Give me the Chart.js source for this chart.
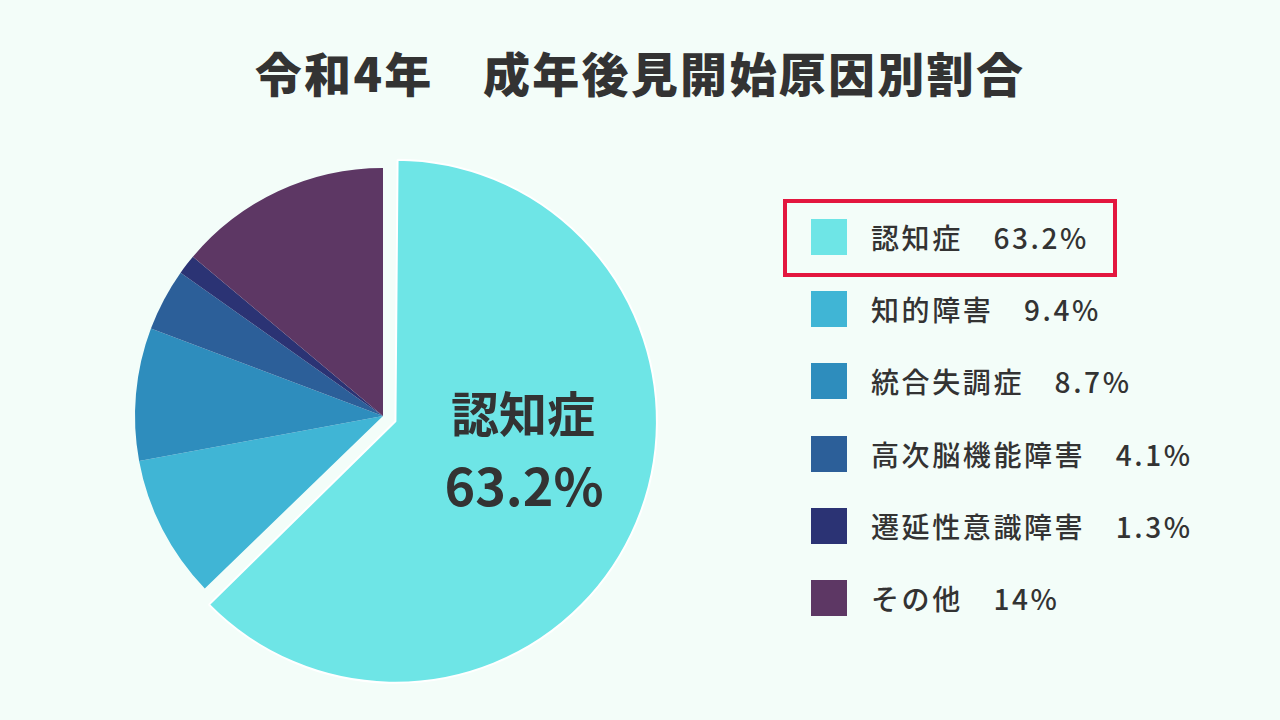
<!DOCTYPE html>
<html lang="ja">
<head>
<meta charset="utf-8">
<title>令和4年 成年後見開始原因別割合</title>
<script src="https://cdn.jsdelivr.net/npm/chart.js@4.4.1/dist/chart.umd.min.js"></script>
<style>
    html, body {
        margin: 0;
        padding: 0;
        width: 1280px;
        height: 720px;
        overflow: hidden;
        background: #f3fdf9;
        font-family: 'Noto Sans CJK JP', 'Noto Sans', sans-serif;
        color: #333;
    }
    #title {
        position: absolute;
        left: 0;
        top: 42px;
        width: 1280px;
        margin: 0;
        text-align: center;
        font-size: 47px;
        line-height: 60px;
        font-weight: 900;
        letter-spacing: 2.3px;
    }
    #pieBox {
        position: absolute;
        left: 103px;
        top: 136px;
        width: 560px;
        height: 560px;
    }
    #legend {
        position: absolute;
        left: 811px;
        top: 201px;
        margin: 0;
        padding: 0;
        list-style: none;
    }
    #legend li {
        display: flex;
        align-items: center;
        height: 72.2px;
        font-size: 28px;
        font-weight: 500;
        letter-spacing: 2.6px;
        white-space: pre;
    }
    #legend .box {
        width: 36px;
        height: 36px;
        margin-right: 24px;
        flex: none;
    }
    #highlight {
        position: absolute;
        left: 783px;
        top: 199px;
        width: 334px;
        height: 78px;
        box-sizing: border-box;
        border: 4px solid #e3173f;
    }
</style>
</head>
<body>
<h1 id="title">令和4年　成年後見開始原因別割合</h1>
<div id="pieBox"><canvas id="causePie" width="560" height="560"></canvas></div>
<div id="highlight"></div>
<ul id="legend"></ul>

<script>
const causes = ['認知症', '知的障害', '統合失調症', '高次脳機能障害', '遷延性意識障害', 'その他'];
const shares = [63.2, 9.4, 8.7, 4.1, 1.3, 14];
const sliceColors = ['#6ee5e6', '#40b5d5', '#2e8dbd', '#2c5f99', '#2b3374', '#5d3764'];

//#region Legend (HTML)
function buildLegend() {
    const legend = document.getElementById('legend');
    causes.forEach((cause, i) => {
        const li = document.createElement('li');
        const box = document.createElement('span');
        box.className = 'box';
        box.style.background = sliceColors[i];
        li.appendChild(box);
        li.appendChild(document.createTextNode(cause + '　' + shares[i] + '%'));
        legend.appendChild(li);
    });
}
//#endregion

//#region Pie
// label written on the big slice
const bigSliceLabel = {
    id: 'bigSliceLabel',
    afterDatasetsDraw(chart) {
        const arc = chart.getDatasetMeta(0).data[0];
        const {x, y, startAngle, endAngle, outerRadius} = arc.getProps(['x', 'y', 'startAngle', 'endAngle', 'outerRadius']);
        const mid = (startAngle + endAngle) / 2;
        const ax = x + Math.cos(mid) * outerRadius * 0.6;
        const ay = y + Math.sin(mid) * outerRadius * 0.6;
        const ctx = chart.ctx;
        ctx.save();
        ctx.fillStyle = '#333';
        ctx.textAlign = 'center';
        ctx.textBaseline = 'middle';
        ctx.font = 'bold 48px "Noto Sans CJK JP"';
        ctx.fillText(causes[0], ax + 3, ay - 60);
        ctx.font = 'bold 52px "Noto Sans CJK JP"';
        ctx.fillText(shares[0] + '%', ax + 4, ay + 12);
        ctx.restore();
    }
};

function createPieChart() {
    const data = {
        labels: causes,
        datasets: [{
            data: shares,
            backgroundColor: sliceColors,
            borderColor: '#ffffff',
            borderWidth: [2, 0, 0, 0, 0, 0],
            offset: [54, 0, 0, 0, 0, 0]
        }]
    };

    const config = {
        type: 'pie',
        data: data,
        options: {
            responsive: false,
            animation: false,
            radius: 248,
            layout: { padding: 0 },
            plugins: {
                legend: { display: false },
                tooltip: { enabled: false }
            }
        },
        plugins: [bigSliceLabel]
    };

    new Chart(document.getElementById('causePie'), config);
}
//#endregion

buildLegend();
createPieChart();
</script>
</body>
</html>
